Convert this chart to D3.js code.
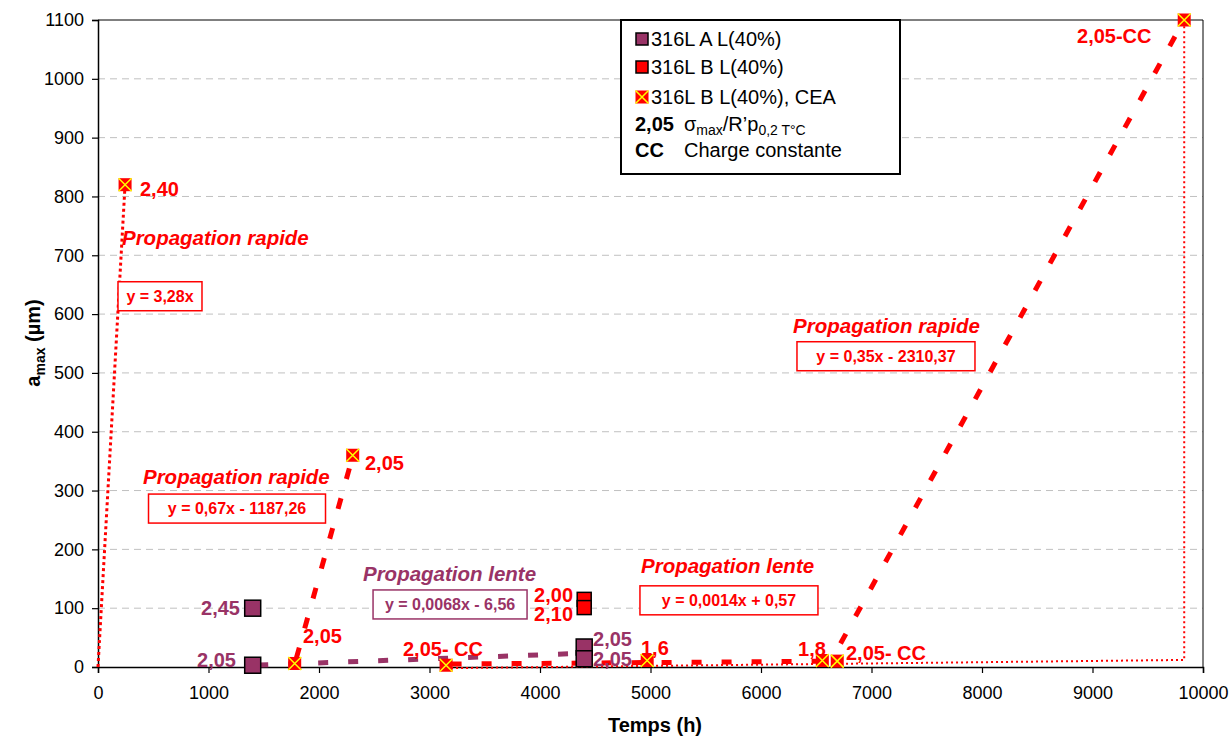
<!DOCTYPE html>
<html><head><meta charset="utf-8">
<script src="https://cdn.jsdelivr.net/npm/d3@7"></script>
<style>body{margin:0;background:#fff}svg{display:block;font-family:"Liberation Sans",Arial,sans-serif}</style>
</head><body><svg id="c" width="1229" height="737"></svg>
<script>
// ---------- data ----------
const xTicks = [0,1000,2000,3000,4000,5000,6000,7000,8000,9000,10000];
const yTicks = [0,100,200,300,400,500,600,700,800,900,1000,1100];
const seriesA = [[1400,100],[1400,3],[4400,34],[4400,14]];          // 316L A L(40%)
const seriesB = [[4400,115],[4400,101]];                             // 316L B L(40%)
const seriesCEA = [[245,820],[1780,6],[2305,360],[3150,3],[4970,11],[6555,11],[6690,10],[9830,1100]];
const trendRapide1 = [[0,0],[245,820]];
const trendRapide2 = [[1795,15],[2290,348]];
const trendLenteA = [[1450,3.3],[4380,23.2]];
const trendLenteB = [[3200,5.0],[6650,9.9]];
const trendRapide3 = [[6720,40],[9820,1097]];
const ccLine = [[3150,-2],[9830,12],[9830,1100]];
const labelsRed = [
  ["2,40",380,801,"start"],["2,05",2416,335,"start"],["2,00",4299,110,"end"],["2,10",4299,79,"end"],
  ["2,05",1855,41,"start"],["2,05- CC",2760,19,"start"],["1,6",4914,20,"start"],["1,8",6335,19,"start"],
  ["2,05- CC",6769,12,"start"],["2,05-CC",8860,1061,"start"]];
const labelsPurple = [["2,45",1285,88,"end"],["2,05",1249,0,"end"],["2,05",4480,36,"start"],["2,05",4480,2,"start"]];
const titlesRed = [["Propagation rapide",217,717],["Propagation rapide",407,311],["Propagation lente",4914,160],["Propagation rapide",6290,568]];
const titlesPurple = [["Propagation lente",2398,146]];
const eqRed = [["y = 3,28x",561,621,84],["y = 0,67x - 1187,26",1258,260,177],["y = 0,0014x + 0,57",5710,104,178],["y = 0,35x - 2310,37",7131,519,178]];
const eqPurple = [["y = 0,0068x - 6,56",3186,97,154]];
const legendItems = ["316L A L(40%)","316L B L(40%)","316L B L(40%), CEA"];

// ---------- drawing ----------
const RED="#FF0000", PUR="#993366", YEL="#FFFF00";
const svg = d3.select("#c");
const x = d3.scaleLinear().domain([0,10000]).range([98,1203]);
const y = d3.scaleLinear().domain([0,1100]).range([667,20]);

// grid
svg.append("g").selectAll("line").data(yTicks.filter(d=>d>0&&d<1100)).join("line")
  .attr("x1",x(0)).attr("x2",x(10000)).attr("y1",d=>y(d)).attr("y2",d=>y(d))
  .attr("stroke","#c0c0c0").attr("stroke-width",1).attr("stroke-dasharray","7,5");

// frame top/right
svg.append("path").attr("d",`M${x(0)},${y(1100)}H${x(10000)}V${y(0)}`).attr("fill","none").attr("stroke","#000").attr("stroke-width",1);

// axes
const ax = svg.append("g").attr("transform",`translate(0,${y(0)})`)
  .call(d3.axisBottom(x).tickValues(xTicks).tickSize(6).tickPadding(11).tickFormat(d3.format("d")));
const ay = svg.append("g").attr("transform",`translate(${x(0)},0)`)
  .call(d3.axisLeft(y).tickValues(yTicks).tickSize(6).tickPadding(8).tickFormat(d3.format("d")));
[ax,ay].forEach(a=>{a.select(".domain").attr("stroke","#000").attr("stroke-width",1.5);
  a.selectAll(".tick line").attr("stroke","#000").attr("stroke-width",1.2);
  a.selectAll(".tick text").attr("font-size",18).attr("fill","#000").attr("font-family","Liberation Sans, Arial, sans-serif");});
ax.selectAll(".tick text").attr("dy","0.85em");

// axis titles
svg.append("text").attr("x",655).attr("y",732).attr("text-anchor","middle").attr("font-size",20).attr("font-weight","bold").text("Temps (h)");
const yt = svg.append("text").attr("transform","translate(40,343) rotate(-90)").attr("text-anchor","middle").attr("font-size",20).attr("font-weight","bold");
yt.append("tspan").text("a");
yt.append("tspan").attr("font-size",14).attr("dy",5).text("max");
yt.append("tspan").attr("dy",-5).text(" (µm)");

// lines
const line = d3.line().x(d=>x(d[0])).y(d=>y(d[1]));
function drawLine(data,color,w,dash){
  svg.append("path").datum(data).attr("d",line).attr("fill","none").attr("stroke",color)
    .attr("stroke-width",w).attr("stroke-dasharray",dash);
}
drawLine(ccLine,RED,2,"2,3");
drawLine(trendRapide1,RED,3,"3,3");
drawLine(trendRapide2,RED,5,"11,20");
drawLine(trendLenteA,PUR,5,"10,20");
drawLine(trendLenteB,RED,5,"10,20");
drawLine(trendRapide3,RED,5,"11,20");

// markers
function square(g,px,py,s,fill){
  g.append("rect").attr("x",px-s/2).attr("y",py-s/2).attr("width",s).attr("height",s)
    .attr("fill",fill).attr("stroke","#000").attr("stroke-width",1.5);
}
function cea(g,px,py,s){
  g.append("rect").attr("x",px-s/2).attr("y",py-s/2).attr("width",s).attr("height",s).attr("fill",RED);
  g.append("path").attr("d",`M${px-s/2},${py-s/2}L${px+s/2},${py+s/2}M${px+s/2},${py-s/2}L${px-s/2},${py+s/2}`)
    .attr("stroke",YEL).attr("stroke-width",1.5);
}
const gm = svg.append("g");
seriesA.forEach(d=>square(gm,x(d[0]),y(d[1]),16,PUR));
seriesB.forEach(d=>square(gm,x(d[0]),y(d[1]),14,RED));
seriesCEA.forEach(d=>cea(gm,x(d[0]),y(d[1]),13));

// labels
function lab(arr,color){
  arr.forEach(d=>svg.append("text").attr("x",x(d[1])).attr("y",y(d[2])).attr("text-anchor",d[3])
    .attr("font-size",20).attr("font-weight","bold").attr("fill",color).text(d[0]));
}
lab(labelsRed,RED); lab(labelsPurple,PUR);
function titles(arr,color){
  arr.forEach(d=>svg.append("text").attr("x",x(d[1])).attr("y",y(d[2])).attr("font-size",20.5)
    .attr("font-weight","bold").attr("font-style","italic").attr("fill",color).text(d[0]));
}
titles(titlesRed,RED); titles(titlesPurple,PUR);
function eqs(arr,color){
  arr.forEach(d=>{
    const cx=x(d[1]), by=y(d[2]);
    svg.append("rect").attr("x",cx-d[3]/2).attr("y",by-20).attr("width",d[3]).attr("height",29)
      .attr("fill","#fff").attr("stroke",color).attr("stroke-width",1.5);
    svg.append("text").attr("x",cx).attr("y",by).attr("text-anchor","middle").attr("font-size",16)
      .attr("font-weight","bold").attr("fill",color).text(d[0]);
  });
}
eqs(eqRed,RED); eqs(eqPurple,PUR);

// legend
const lg = svg.append("g");
lg.append("rect").attr("x",621).attr("y",20).attr("width",279).attr("height",154).attr("fill","#fff").attr("stroke","#000").attr("stroke-width",2);
const rows=[39,67,97];
square(lg,642,rows[0],12,PUR); square(lg,642,rows[1],12,RED); cea(lg,642,rows[2],13);
legendItems.forEach((t,i)=>lg.append("text").attr("x",651).attr("y",rows[i]+7).attr("font-size",20).text(t));
lg.append("text").attr("x",635).attr("y",131).attr("font-size",20).attr("font-weight","bold").text("2,05");
const sg = lg.append("text").attr("x",684).attr("y",131).attr("font-size",20);
sg.append("tspan").text("σ");
sg.append("tspan").attr("font-size",14).attr("dy",4).text("max");
sg.append("tspan").attr("dy",-4).text("/R’p");
sg.append("tspan").attr("font-size",14).attr("dy",4).text("0,2 T°C");
lg.append("text").attr("x",635).attr("y",157).attr("font-size",20).attr("font-weight","bold").text("CC");
lg.append("text").attr("x",684).attr("y",157).attr("font-size",20).text("Charge constante");
</script></body></html>
